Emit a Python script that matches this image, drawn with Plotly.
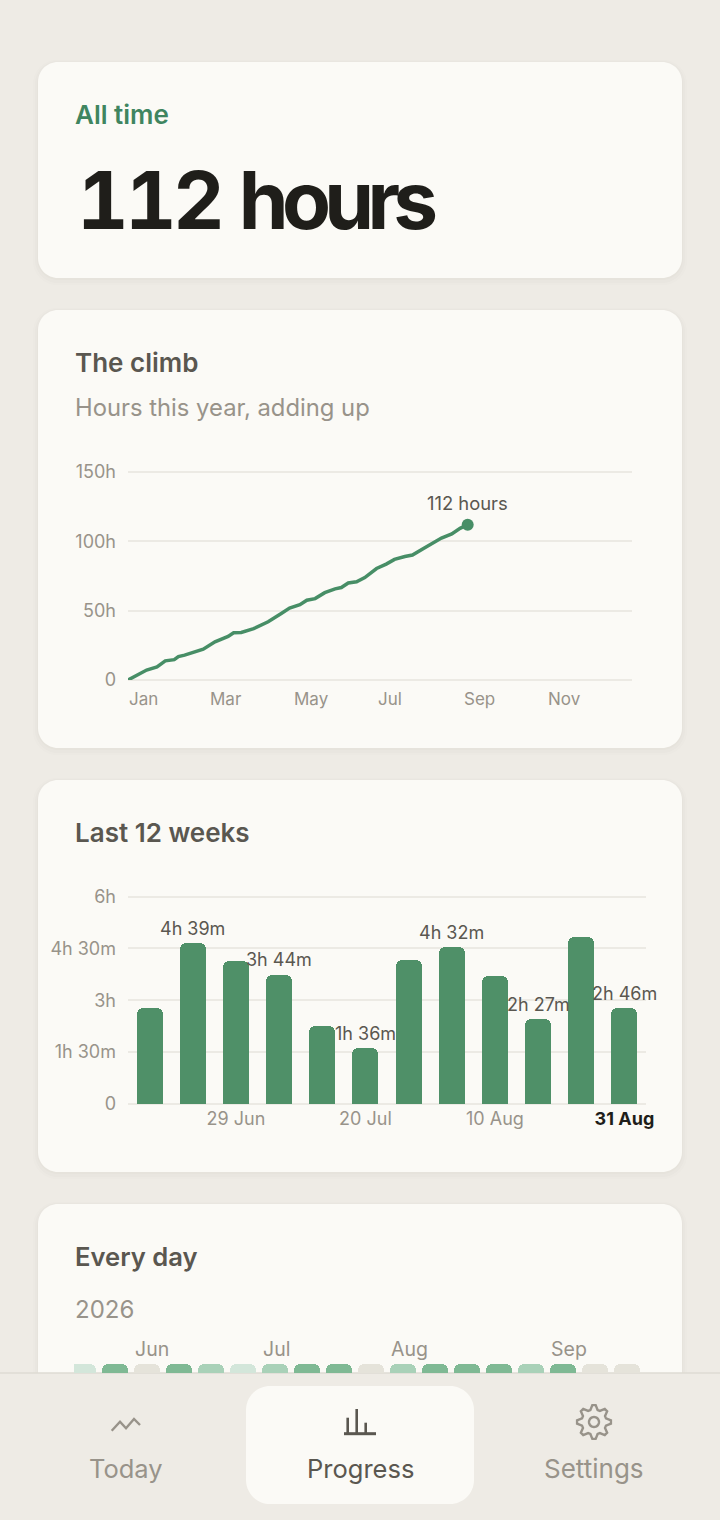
import math
import plotly.graph_objects as go

W, H = 720, 1520
FONT = "Inter"

BG = "#EEEBE5"
CARD = "#FBFAF6"
GRID = "#ECEAE4"
GREEN = "#478E66"
BAR_GREEN = "#4F9068"
INK = "#1F1E1A"
HEAD = "#5A5750"
MUTED = "#98938A"

# The climb: day of year, cumulative hours
climb_days = [0, 5, 13.5, 21, 27, 33.5, 36.5, 41, 48.5, 54.5, 63, 72.5, 76.5, 82, 91, 97, 101.5,
              111, 117, 124.5, 129.5, 135.5, 142.5, 150, 154.5, 159.5, 165.5, 171.5, 180, 187,
              193, 200.5, 206, 214, 221, 227, 234.5, 240.5, 246]
climb_hours = [0, 2.9, 7.2, 9.4, 13.8, 14.7, 16.9, 17.9, 20.3, 22.2, 27.5, 31.4, 34.1, 34.3, 37,
               39.9, 42, 48, 51.9, 54.3, 57.5, 58.7, 63, 65.7, 66.7, 70, 70.8, 73.9, 80.4, 83.6,
               87, 89.1, 90.1, 94.9, 99, 102.4, 105.3, 109.4, 112]
climb_month_days = [0, 59, 120, 181, 243, 304]
climb_month_labels = ["Jan", "Mar", "May", "Jul", "Sep", "Nov"]
climb_ticks = [0, 50, 100, 150]
climb_tick_labels = ["0", "50h", "100h", "150h"]

# Last 12 weeks: minutes per week
week_labels = ["15 Jun", "22 Jun", "29 Jun", "6 Jul", "13 Jul", "20 Jul",
               "27 Jul", "3 Aug", "10 Aug", "17 Aug", "24 Aug", "31 Aug"]
week_minutes = [166, 279, 248, 224, 135, 96, 250, 272, 222, 147, 289, 166]
week_texts = ["", "4h 39m", "", "3h 44m", "", "1h 36m", "", "4h 32m", "", "2h 27m", "", "2h 46m"]
week_ticks = [0, 90, 180, 270, 360]
week_tick_labels = ["0", "1h 30m", "3h", "4h 30m", "6h"]
week_shown = ["29 Jun", "20 Jul", "10 Aug", "31 Aug"]

# Every day: one visible row of the calendar
day_levels = [1, 3, 0, 3, 2, 1, 2, 3, 3, 0, 2, 3, 3, 3, 2, 3, 0, 0]
level_colors = ["#E5E3DA", "#D3E6DA", "#A9D1B8", "#7FB994"]
cal_month_cells = [2, 6, 10, 15]
cal_month_labels = ["Jun", "Jul", "Aug", "Sep"]

# the big number has wide-set digits and tight letters
BIG_NUMBER = ('<span style="font-variant-numeric:tabular-nums;letter-spacing:-3.7px">112\u00a0</span>'
              '<span style="letter-spacing:-6.7px">hours</span>')


def px(x):
    return x / W


def py(y):
    return 1 - y / H


def rrect(x0, y0, x1, y1, r):
    k = r * 0.4477  # control point distance from the corner for a round arc
    pts = [f"M{px(x0 + r)},{py(y0)}", f"L{px(x1 - r)},{py(y0)}",
           f"C{px(x1 - k)},{py(y0)} {px(x1)},{py(y0 + k)} {px(x1)},{py(y0 + r)}",
           f"L{px(x1)},{py(y1 - r)}",
           f"C{px(x1)},{py(y1 - k)} {px(x1 - k)},{py(y1)} {px(x1 - r)},{py(y1)}",
           f"L{px(x0 + r)},{py(y1)}",
           f"C{px(x0 + k)},{py(y1)} {px(x0)},{py(y1 - k)} {px(x0)},{py(y1 - r)}",
           f"L{px(x0)},{py(y0 + r)}",
           f"C{px(x0)},{py(y0 + k)} {px(x0 + k)},{py(y0)} {px(x0 + r)},{py(y0)}", "Z"]
    return " ".join(pts)


def shape_path(path, fill=None, line=None, width=0):
    return dict(type="path", xref="paper", yref="paper", path=path, layer="below",
                fillcolor=fill or "rgba(0,0,0,0)",
                line=dict(color=line or "rgba(0,0,0,0)", width=width))


def polyline(points):
    return "M" + " L".join(f"{px(x)},{py(y)}" for x, y in points)


def gear_path(cx, cy, r_out, r_in, teeth=8):
    pts = []
    for i in range(teeth * 4):
        a = 2 * math.pi * i / (teeth * 4) - math.pi / 2 - 2 * math.pi / (teeth * 8)
        r = r_out if i % 4 in (0, 1) else r_in
        pts.append((cx + r * math.cos(a), cy + r * math.sin(a)))
    return polyline(pts) + " Z"


def circle_path(cx, cy, r, n=32):
    pts = [(cx + r * math.cos(2 * math.pi * i / n), cy + r * math.sin(2 * math.pi * i / n))
           for i in range(n)]
    return polyline(pts) + " Z"


def label(x, y, text, size, color, weight=400, anchor="left"):
    return dict(xref="paper", yref="paper", x=px(x), y=py(y), text=text, showarrow=False,
                xanchor=anchor, yanchor="middle", borderpad=0,
                font=dict(family=FONT, size=size, color=color, weight=weight))


fig = go.Figure()

# Climb
fig.add_trace(go.Scatter(x=climb_days, y=climb_hours, mode="lines", xaxis="x", yaxis="y",
                         line=dict(color=GREEN, width=3.5), cliponaxis=False,
                         showlegend=False, hoverinfo="skip"))
fig.add_trace(go.Scatter(x=climb_days[-1:], y=climb_hours[-1:], mode="markers", xaxis="x", yaxis="y",
                         marker=dict(color=GREEN, size=12), cliponaxis=False,
                         showlegend=False, hoverinfo="skip"))

# Weeks
fig.add_trace(go.Bar(x=week_labels, y=week_minutes, xaxis="x2", yaxis="y2", width=0.6,
                     marker=dict(color=BAR_GREEN, cornerradius=6, line=dict(width=0)),
                     showlegend=False, hoverinfo="skip"))

# Calendar row, clipped by the tab bar
fig.add_trace(go.Bar(x=list(range(len(day_levels))), y=[1] * len(day_levels), xaxis="x3", yaxis="y3",
                     width=26 / 32,
                     marker=dict(color=[level_colors[v] for v in day_levels], cornerradius=6,
                                 line=dict(width=0)),
                     showlegend=False, hoverinfo="skip"))

shapes = []
for y0, y1 in [(62, 278), (310, 748), (780, 1172), (1204, 1420)]:
    shapes.append(shape_path(rrect(33, y0 - 2, 687, y1 + 7, 24), fill="rgba(90,80,60,0.012)"))
    shapes.append(shape_path(rrect(35, y0 - 1, 685, y1 + 5, 23), fill="rgba(90,80,60,0.016)"))
    shapes.append(shape_path(rrect(37, y0 + 1, 683, y1 + 2, 21), fill="#E6E3DC"))
    shapes.append(shape_path(rrect(38, y0, 682, y1, 20), fill=CARD))
# tab bar
shapes.append(dict(type="rect", xref="paper", yref="paper", layer="below", x0=0, x1=1,
                   y0=0, y1=py(1373), fillcolor=BG, line=dict(width=0)))
shapes.append(dict(type="line", xref="paper", yref="paper", layer="below", x0=0, x1=1,
                   y0=py(1373), y1=py(1373), line=dict(color="#DEDBD3", width=1.5)))
shapes.append(shape_path(rrect(246, 1386, 474, 1504, 24), fill=CARD))
# Today icon
shapes.append(shape_path(polyline([(111.7, 1430.7), (120, 1421.7), (126, 1428.3), (134, 1419), (140, 1425)]),
                         line=MUTED, width=2.4))
# Progress icon
for pts, wd in [([(344, 1433.7), (376, 1433.7)], 3), ([(347.7, 1433), (347.7, 1417.7)], 2.6),
                ([(356.7, 1433), (356.7, 1409)], 2.6), ([(365.7, 1433), (365.7, 1422.7)], 2.6)]:
    shapes.append(shape_path(polyline(pts), line=HEAD, width=wd))
# Settings icon
shapes.append(shape_path(gear_path(594, 1422, 17, 12.5), line=MUTED, width=2.4))
shapes.append(shape_path(circle_path(594, 1422, 5), line=MUTED, width=2.4))

annotations = [
    label(74, 114.5, "All time", 26, "#3F8560", 600),
    label(76, 199, BIG_NUMBER, 80, INK, 700),
    label(74, 362.5, "The climb", 26, HEAD, 600),
    label(74, 407.5, "Hours this year, adding up", 23.8, MUTED),
    label(74, 832.5, "Last 12 weeks", 26, HEAD, 600),
    label(74, 1256.5, "Every day", 25.6, HEAD, 600),
    label(74, 1309.5, "2026", 24, MUTED),
    label(126.5, 1468.5, "Today", 25.5, MUTED, anchor="center"),
    label(360, 1468.5, "Progress", 25.5, HEAD, anchor="center"),
    label(593.5, 1468.5, "Settings", 26, MUTED, anchor="center"),
]
annotations.append(dict(xref="x", yref="y", x=climb_days[-1], y=climb_hours[-1], text=f"{climb_hours[-1]} hours",
                        showarrow=False, xanchor="center", yanchor="bottom", yshift=10, borderpad=0,
                        font=dict(family=FONT, size=18.4, color=HEAD)))
for d, t in zip(climb_month_days, climb_month_labels):
    annotations.append(dict(xref="x", yref="paper", x=d, y=py(699), text=t, showarrow=False, xshift=-0.5,
                            xanchor="left", yanchor="middle", borderpad=0,
                            font=dict(family=FONT, size=17, color=MUTED)))
for lab, v, t in zip(week_labels, week_minutes, week_texts):
    if t:
        annotations.append(dict(xref="x2", yref="y2", x=lab, y=v, text=t, showarrow=False,
                                xanchor="center", yanchor="bottom", yshift=3.5, borderpad=0,
                                font=dict(family=FONT, size=18, color=HEAD)))
for c, t in zip(cal_month_cells, cal_month_labels):
    annotations.append(dict(xref="x3", yref="paper", x=c - 13 / 32, y=py(1349), text=t, showarrow=False, xshift=-0.5,
                            xanchor="left", yanchor="middle", borderpad=0,
                            font=dict(family=FONT, size=19.5, color=MUTED)))

tick_font = dict(family=FONT, size=18, color=MUTED)
fig.update_layout(
    width=W, height=H, margin=dict(l=0, r=0, t=0, b=0, autoexpand=False), autosize=False,
    paper_bgcolor=BG, plot_bgcolor="rgba(0,0,0,0)", showlegend=False,
    font=dict(family=FONT), shapes=shapes, annotations=annotations, bargap=0,
    xaxis=dict(domain=[px(128), px(632)], range=[0, 365], showgrid=False, zeroline=False,
               showticklabels=False, ticks="", anchor="y", fixedrange=True),
    # top of the range sits one hour past the last gridline so that line is kept
    yaxis=dict(domain=[py(680), py(472 - 208 / 150)], range=[0, 151], tickvals=climb_ticks,
               ticktext=climb_tick_labels, showgrid=True, gridcolor=GRID, gridwidth=1.5,
               zeroline=True, zerolinecolor=GRID, zerolinewidth=1.5, showline=False,
               ticks="", ticklabelstandoff=11, tickfont=tick_font, anchor="x", fixedrange=True),
    xaxis2=dict(domain=[px(128), px(646)], type="category", categoryorder="array", categoryarray=week_labels,
                range=[-0.5, 11.5], tickmode="array", tickvals=week_shown,
                ticktext=[t if t != week_labels[-1] else f'<span style="color:{INK}"><b>{t}</b></span>'
                          for t in week_shown],
                showgrid=False, zeroline=False, ticks="", tickangle=0, ticklabelstandoff=2,
                tickfont=dict(family=FONT, size=18, color=MUTED), anchor="y2", fixedrange=True),
    yaxis2=dict(domain=[py(1104), py(896.5 - 4 * 207.5 / 360)], range=[0, 364], tickvals=week_ticks,
                ticktext=week_tick_labels, showgrid=True, gridcolor=GRID, gridwidth=1.5,
                zeroline=True, zerolinecolor=GRID, zerolinewidth=1.5, showline=False,
                ticks="", ticklabelstandoff=11, tickfont=tick_font, anchor="x2", fixedrange=True),
    xaxis3=dict(domain=[px(74), px(640)], range=[-9 / 32, 17 + 13 / 32], visible=False, anchor="y3", fixedrange=True),
    yaxis3=dict(domain=[py(1373), py(1364)], range=[0.6, 1], visible=False, anchor="x3", fixedrange=True),
)

fig.write_html("out.html", config=dict(displayModeBar=False),
               post_script="document.body.style.margin='0';document.body.style.overflow='hidden';")
